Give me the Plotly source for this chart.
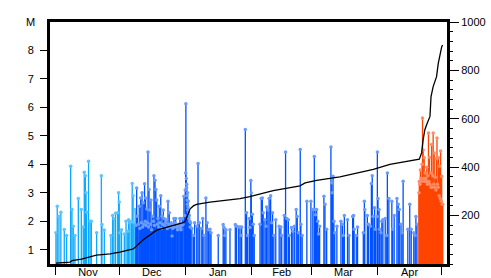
import pandas as pd
import plotly.graph_objects as go

# ---------------- data (days since 1 Nov, magnitude) ----------------
base_date = "2022-11-01"

nov_days = [0.0, 0.6, 1.4, 2.3, 3.9, 5.0, 6.9, 7.5, 8.1, 8.9, 10.5, 11.9, 12.8, 13.3, 13.8,
            14.1, 14.4, 15.3, 16.0, 16.6, 19.1, 21.3, 21.6, 22.7, 25.8, 26.6, 27.2, 28.0,
            29.0, 29.4, 29.7, 30.0, 30.8, 32.1, 32.9, 33.7, 34.1, 34.7, 35.4, 35.8, 36.2,
            36.6, 37.2]
nov_mag = [1.6, 2.53, 2.18, 2.32, 1.71, 1.5, 3.93, 2.41, 1.83, 1.5, 2.8, 2.41, 1.8, 3.72, 3.6,
           3.0, 2.32, 4.11, 2.0, 2.0, 1.6, 3.6, 1.89, 1.69, 1.5, 2.2, 2.09, 2.28,
           2.3, 3.0, 2.68, 1.6, 1.7, 1.55, 2.0, 1.65, 2.05, 1.95, 2.0, 3.33, 2.9,
           1.95, 2.41]

blue_days = [37.5, 37.9, 38.2, 38.6, 39.1, 39.4, 39.8, 40.1, 40.4, 40.7, 41.0, 41.3, 41.6, 41.9,
             42.1, 42.3, 42.6, 42.9, 43.2, 43.5, 43.7, 44.1, 44.4, 44.6, 44.9, 45.4, 45.7,
             46.0, 46.2, 46.5, 46.9, 47.3, 47.6, 47.9, 48.2, 48.5, 48.8, 49.2, 49.5, 49.8,
             50.1, 50.4, 50.8, 51.0, 51.3, 51.6, 52.0, 52.3, 52.6, 52.9, 53.2, 53.5, 53.8,
             54.1, 54.5, 54.8, 55.1, 55.4, 55.7, 56.0, 56.2, 56.7, 57.1, 57.4, 57.8, 58.2,
             58.5, 58.7, 59.0, 59.3, 59.6, 60.1, 60.4, 60.7, 60.9, 61.0, 61.2, 61.3, 61.4,
             61.5, 61.6, 61.7, 61.8, 61.9, 62.0, 62.1, 62.3, 62.4, 62.6, 62.8, 63.0, 63.2,
             63.8, 64.5, 65.1, 66.1, 66.7, 67.3, 68.2, 68.9, 69.5, 70.4, 71.0, 71.7,
             72.3, 72.8, 76.2, 78.5, 78.9, 79.3, 79.8, 81.7, 84.2, 84.8, 85.8, 86.4, 86.9,
             87.2, 88.9, 89.5, 90.0, 90.8, 91.1, 91.5, 91.7, 92.2, 92.6, 93.1, 95.8, 96.4,
             96.9, 97.3, 98.1, 98.6, 98.9, 99.5, 100.1, 100.8, 101.3, 101.7, 102.3, 103.2,
             104.8, 105.6, 106.0, 107.2, 107.8, 108.3, 109.1, 109.6, 110.6, 111.2, 111.9,
             112.8, 113.3, 113.9, 114.7, 115.0, 115.6, 117.8, 119.7, 120.6, 121.3, 121.6,
             121.9, 122.4, 122.9, 123.3, 123.8, 125.8, 126.3, 127.1, 129.1, 129.5, 129.8,
             130.1, 130.5, 130.9, 131.9, 133.8, 134.5, 134.9, 135.4, 136.9, 137.6, 139.3,
             139.7, 140.0, 141.0, 141.6, 144.3, 144.8, 145.0, 146.2, 146.7, 147.6, 148.1,
             148.5, 148.9, 149.6, 150.0, 150.8, 150.9, 151.2, 151.7, 152.0, 152.6, 153.0,
             153.5, 154.6, 155.3, 155.6, 156.3, 157.7, 158.1, 158.8, 160.1, 160.7, 161.2,
             162.0, 162.5, 163.0, 165.2, 166.1, 166.8, 168.0, 168.6, 169.0, 169.5]
blue_mag = [1.85, 3.17, 2.18, 1.9, 2.53, 1.75, 2.82, 1.95, 3.0, 1.8, 2.65, 1.9, 3.32, 2.0,
            2.82, 1.85, 2.43, 1.95, 4.43, 1.8, 3.12, 2.4, 1.9, 2.75, 1.7, 2.18, 2.0,
            3.6, 1.85, 3.44, 3.12, 2.75, 1.9, 2.1, 1.8, 2.53, 1.95, 2.9, 1.75, 2.18,
            1.9, 2.4, 2.1, 1.85, 1.83, 1.95, 2.05, 1.75, 2.7, 1.9, 2.3, 1.8, 1.83,
            1.95, 1.48, 1.75, 1.9, 2.1, 1.8, 1.95, 2.1, 1.8, 1.7, 1.83, 1.9, 2.1,
            1.75, 1.7, 1.85, 2.1, 1.9, 2.88, 2.2, 3.1, 3.7, 6.13, 3.5, 3.2, 3.3,
            2.9, 2.75, 2.6, 3.0, 2.4, 2.5, 2.7, 2.3, 2.1, 2.2, 2.0, 1.8, 1.95,
            1.75, 1.5, 1.95, 1.83, 4.03, 1.95, 1.75, 2.1, 1.5, 2.82, 1.95, 1.7,
            1.72, 1.6, 1.5, 1.89, 1.78, 1.5, 1.7, 1.7, 1.89, 1.83, 1.8, 1.8, 1.5,
            1.8, 5.22, 2.3, 1.5, 2.1, 1.78, 3.43, 3.0, 2.25, 1.9, 1.5, 1.9, 2.8,
            2.82, 2.3, 2.05, 1.83, 2.5, 2.4, 2.8, 2.9, 1.95, 2.3, 1.5, 2.05,
            1.83, 1.8, 1.5, 2.2, 4.43, 2.1, 2.05, 1.5, 1.78, 1.65, 1.83,
            2.41, 2.17, 1.6, 4.52, 1.9, 1.5, 2.7, 2.7, 2.41, 4.28, 2.41,
            2.23, 2.41, 2.0, 1.55, 1.83, 2.88, 2.6, 1.72, 4.61, 3.35, 3.0,
            3.58, 2.0, 1.6, 1.83, 2.0, 1.9, 1.5, 2.2, 2.05, 1.5, 2.17, 2.2,
            1.72, 1.5, 1.8, 1.6, 2.7, 2.41, 2.2, 1.9, 1.83, 3.33, 3.6,
            2.17, 2.48, 1.72, 2.17, 4.43, 2.8, 2.41, 1.72, 1.6, 2.0, 2.05,
            2.1, 1.5, 3.7, 2.8, 2.7, 1.72, 2.2, 2.8, 2.6, 2.41, 1.9, 1.6,
            3.41, 1.72, 2.6, 1.72, 1.6, 1.5, 2.17, 1.9, 1.5]

orange_days = [170.4, 170.6, 170.9, 171.1, 171.4, 171.6, 171.9, 172.1, 172.4, 172.6, 172.9,
               173.1, 173.4, 173.6, 173.9, 174.1, 174.4, 174.6, 174.9, 175.1, 175.4, 175.6,
               175.9, 176.1, 176.4, 176.6, 176.9, 177.1, 177.4, 177.6, 177.9, 178.1, 178.4,
               178.6, 178.9, 179.1, 179.4, 179.6, 179.9, 180.1, 180.4, 180.6, 180.9, 181.1,
               181.4, 181.6]
orange_mag = [3.0, 3.4, 3.3, 3.8, 3.5, 3.4, 4.0, 5.63, 4.5, 3.5, 4.23, 3.4, 3.7, 3.5,
              3.4, 3.9, 3.3, 3.6, 5.1, 3.4, 4.24, 3.3, 3.7, 3.2, 4.7, 3.2, 3.6,
              5.1, 3.3, 4.4, 3.2, 3.55, 3.1, 4.2, 4.93, 3.3, 3.2, 4.23, 2.9, 3.93,
              2.8, 4.47, 2.7, 3.58, 2.6, 2.6]

# cumulative number of events (right axis)
cum_days = [0.0, 6.6, 7.5, 12.0, 19.0, 25.4, 30.0, 34.7, 36.3, 41.0, 47.3, 53.5, 59.8, 60.8,
            61.4, 62.1, 63.0, 64.5, 66.0, 72.3, 86.4, 91.0, 102.0, 114.6, 117.0, 122.4, 133.3,
            149.0, 156.8, 170.6, 171.7, 172.4, 173.2, 174.3, 175.6, 176.1, 177.1, 178.7,
            179.5, 181.1, 181.5]
cum_count = [4, 8, 14, 20, 37, 42, 49, 60, 62, 100, 140, 155, 171, 178,
             192, 212, 228, 240, 246, 256, 270, 278, 303, 323, 335, 346, 360,
             391, 412, 433, 460, 514, 555, 582, 610, 692, 733, 774,
             829, 897, 905]

month_mid = ["2022-11-16", "2022-12-16", "2023-01-16", "2023-02-15", "2023-03-16", "2023-04-16"]
month_labels = ["Nov", "Dec", "Jan", "Feb", "Mar", "Apr"]
left_ticks = [1, 2, 3, 4, 5, 6, 7, 8]
right_ticks = [200, 400, 600, 800, 1000]

# ---------------- build ----------------
t0 = pd.Timestamp(base_date)


def to_dates(days):
    return [t0 + pd.to_timedelta(d, unit="D") for d in days]


y_floor = 0.5
fig = go.Figure()


def stems(days, mags, line_col, mark_col):
    fig.add_trace(go.Scatter(
        x=to_dates(days), y=mags, mode="markers",
        marker=dict(symbol="circle", size=3.5, color=mark_col, line=dict(width=0)),
        error_y=dict(type="data", symmetric=False, array=[0] * len(mags),
                     arrayminus=[m - y_floor for m in mags],
                     color=line_col, thickness=1.3, width=0),
        hoverinfo="skip", showlegend=False, yaxis="y"))


stems(nov_days, nov_mag, "#0aa8ff", "#5cc4ff")
stems(blue_days, blue_mag, "#0050ff", "#6a9cff")
stems(orange_days, orange_mag, "#ff4400", "#ff8c66")

fig.add_trace(go.Scatter(
    x=to_dates(cum_days), y=cum_count, mode="lines",
    line=dict(color="black", width=1.3), showlegend=False, yaxis="y2",
    hoverinfo="skip"))

font = dict(family="Liberation Sans, Arial, sans-serif", size=11, color="black")

fig.update_layout(
    width=491, height=278,
    margin=dict(l=50, r=44, t=22, b=14, autoexpand=False),
    paper_bgcolor="white", plot_bgcolor="white",
    font=font,
    xaxis=dict(
        type="date", automargin=False,
        range=[t0 + pd.to_timedelta(-2.8, unit="D"), t0 + pd.to_timedelta(183.6, unit="D")],
        tickmode="array", tickvals=month_mid, ticktext=month_labels,
        ticks="", showgrid=False, zeroline=False,
        showline=True, linecolor="black", linewidth=3, mirror=True,
        minor=dict(ticks="outside", ticklen=8, tickwidth=1, tickcolor="black",
                   dtick="M1", tick0=base_date, showgrid=False),
        ticklabelstandoff=-4,
    ),
    yaxis=dict(
        range=[0.5, 9], tickmode="array", tickvals=left_ticks, automargin=False,
        ticks="outside", ticklen=7, tickwidth=1, tickcolor="black",
        showgrid=False, zeroline=False,
        showline=True, linecolor="black", linewidth=3, mirror=True,
        ticklabelstandoff=4,
    ),
    yaxis2=dict(
        range=[0, 1000], overlaying="y", side="right", automargin=False,
        tickmode="array", tickvals=right_ticks,
        ticks="outside", ticklen=9, tickwidth=1, tickcolor="black",
        minor=dict(ticks="outside", ticklen=3, tickwidth=1, dtick=40, tick0=0,
                   tickcolor="black"),
        showgrid=False, zeroline=False,
        showline=True, linecolor="black", linewidth=3,
    ),
    annotations=[dict(text="M", xref="paper", yref="y", x=0, y=9,
                      xanchor="right", yanchor="middle", xshift=-13,
                      showarrow=False, font=font)],
)

fig.write_html(
    "out.html",
    config={"displayModeBar": False},
    post_script="document.body.style.margin='0';document.body.style.padding='0';"
                "document.body.style.overflow='hidden';",
)
